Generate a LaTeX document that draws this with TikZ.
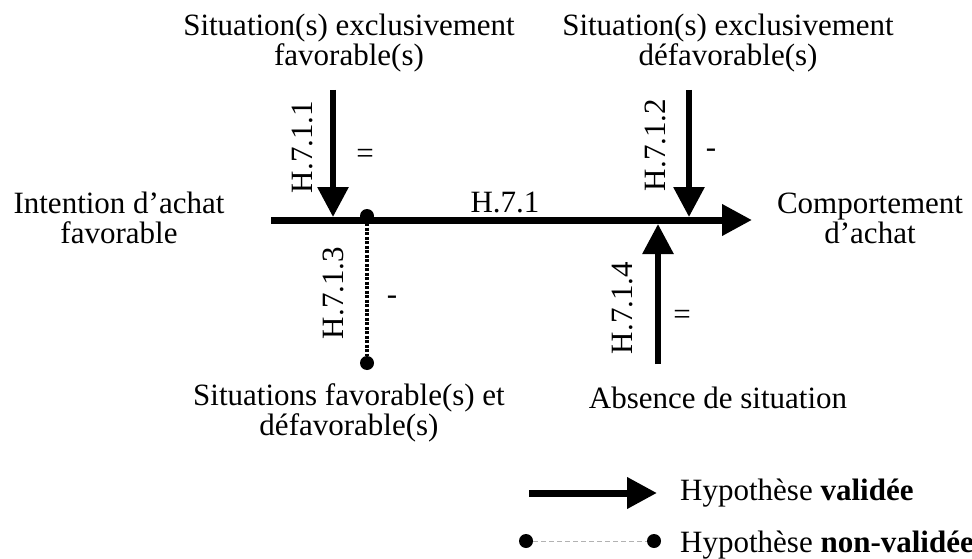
\documentclass[tikz,border=0pt]{standalone}
\usepackage{fontspec}
\setmainfont{Liberation Serif}
\usetikzlibrary{arrows.meta,positioning}

\begin{document}
\begin{tikzpicture}[
    x=1pt, y=-1pt,
    lbl/.style={align=center, inner sep=0pt, font=\fontsize{31}{30}\selectfont},
    hyp/.style={inner sep=0pt, rotate=90, font=\fontsize{31}{30}\selectfont},
    sgn/.style={inner sep=0pt, font=\fontsize{31}{30}\selectfont},
    valid/.style={-{Triangle[length=30pt,width=30pt]}, line width=6pt},
    invalid/.style={line width=4pt, dash pattern=on 3pt off 1.5pt},
    dot/.style={circle, fill, inner sep=0pt, minimum size=13pt}
  ]
  \useasboundingbox (0,0) rectangle (972,559);

  % texts
  \node[lbl] (favtop) at (349,43) {Situation(s) exclusivement\\favorable(s)};
  \node[lbl] (deftop) at (728,43) {Situation(s) exclusivement\\défavorable(s)};
  \node[lbl] (intention) at (119,218) {Intention d’achat\\favorable};
  \node[lbl] (comport) at (870,218) {Comportement\\d’achat};
  \node[lbl] (mixte) at (349,413) {Situations favorable(s) et\\défavorable(s)};
  \node[lbl] (absence) at (718,398) {Absence de situation};

  % junctions
  \coordinate (mstart) at (271,220);
  \coordinate (mend) at (752,220);
  \coordinate (a1top) at (333,90);
  \coordinate (a1end) at (333,217);
  \coordinate (a2top) at (689,90);
  \coordinate (a2end) at (689,217);
  \coordinate (a4bot) at (658,364);
  \coordinate (a4end) at (658,224);
  \node[dot, minimum size=14pt] (d1) at (367,216) {};
  \node[dot, minimum size=14pt] (d2) at (367,363) {};

  % hypotheses
  \draw[valid, line width=7pt] (mstart) -- (mend);
  \draw[valid] (a1top) -- (a1end);
  \draw[valid] (a2top) -- (a2end);
  \draw[valid] (a4bot) -- (a4end);
  \draw[invalid] (d1) -- (d2);

  \node[sgn, anchor=base] (h71) at (505,212) {H.7.1};
  \node[hyp] (h711) at (302,147) {H.7.1.1};
  \node[hyp] (h712) at (655,145) {H.7.1.2};
  \node[hyp] (h713) at (333,293) {H.7.1.3};
  \node[hyp] (h714) at (622,308) {H.7.1.4};
  \node[sgn] (s711) at (365,156) {=};
  \node[sgn] (s712) at (711,153) {-};
  \node[sgn] (s713) at (392,300) {-};
  \node[sgn] (s714) at (682,317) {=};

  % legend
  \coordinate (lv1) at (529,493);
  \coordinate (lv2) at (657,493);
  \draw[valid, line width=7pt] (lv1) -- (lv2);
  \node[sgn, anchor=west] (lvtext) at (680,493) {Hypothèse \textbf{validée}};
  \node[dot, minimum size=14pt] (ln1) at (526,541) {};
  \node[dot, minimum size=14pt] (ln2) at (654,541) {};
  \draw[gray!60, line width=1pt, dash pattern=on 5pt off 3pt] (ln1) -- (ln2);
  \node[sgn, anchor=west] (lntext) at (680,545) {Hypothèse \textbf{non-validée}};
\end{tikzpicture}
\end{document}
